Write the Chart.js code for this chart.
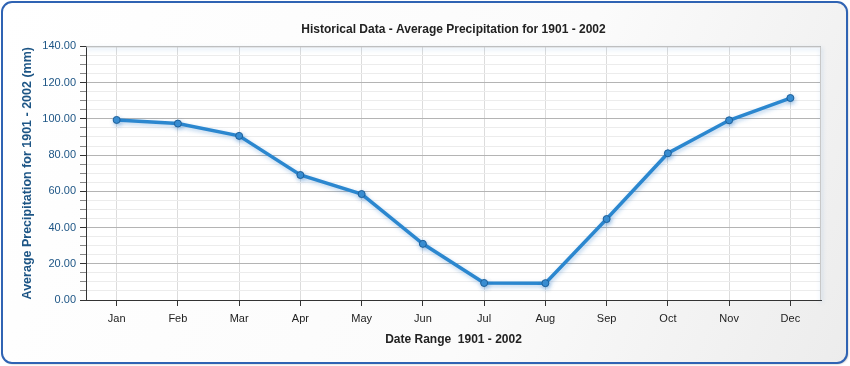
<!DOCTYPE html>
<html>
<head>
<meta charset="utf-8">
<script src="https://cdn.jsdelivr.net/npm/chart.js@4.4.1/dist/chart.umd.min.js"></script>
<style>
  html, body { margin: 0; padding: 0; background: #fff; }
  canvas { display: block; }
</style>
</head>
<body>
<canvas id="myChart" width="850" height="366"></canvas>
<script>
// monthly averages
var months = ['Jan', 'Feb', 'Mar', 'Apr', 'May', 'Jun', 'Jul', 'Aug', 'Sep', 'Oct', 'Nov', 'Dec'];
var precipitation = [99.4, 97.4, 90.6, 69.0, 58.5, 31.0, 9.4, 9.3, 44.7, 81.0, 99.2, 111.5];
var yMin = 0;
var yMax = 140;
var yMajorStep = 20;
var yMinorStep = 5;

var chartTitle = 'Historical Data - Average Precipitation for 1901 - 2002';
var xTitle = 'Date Range  1901 - 2002';
var yTitle = 'Average Precipitation for 1901 - 2002 (mm)';

var fontFamily = "'Liberation Sans', Arial, sans-serif";

// panel background + rounded blue frame, plot frame
var framePlugin = {
  id: 'frame',
  beforeDraw: function(chart) {
    var ctx = chart.ctx;
    var w = chart.width, h = chart.height;
    ctx.save();
    var x = 2, y = 2, bw = w - 5, bh = h - 5, r = 10;
    ctx.beginPath();
    ctx.moveTo(x + r, y);
    ctx.arcTo(x + bw, y, x + bw, y + bh, r);
    ctx.arcTo(x + bw, y + bh, x, y + bh, r);
    ctx.arcTo(x, y + bh, x, y, r);
    ctx.arcTo(x, y, x + bw, y, r);
    ctx.closePath();
    var grad = ctx.createLinearGradient(0, 0, w, h);
    grad.addColorStop(0, '#ffffff');
    grad.addColorStop(0.6, '#fbfbfb');
    grad.addColorStop(1, '#ececec');
    ctx.fillStyle = grad;
    ctx.shadowColor = 'rgba(0, 0, 0, 0.35)';
    ctx.shadowBlur = 2;
    ctx.shadowOffsetX = 1;
    ctx.shadowOffsetY = 1;
    ctx.fill();
    ctx.shadowColor = 'transparent';
    ctx.lineWidth = 2;
    ctx.strokeStyle = '#2f63b3';
    ctx.stroke();

    var a = chart.chartArea;
    ctx.fillStyle = '#ffffff';
    ctx.fillRect(a.left, a.top, a.right - a.left, a.bottom - a.top);
    ctx.restore();
  },
  afterDatasetsDraw: function(chart) {
    var a = chart.chartArea;
    var ctx = chart.ctx;
    ctx.save();
    ctx.strokeStyle = '#c8c8c8';
    ctx.lineWidth = 1;
    ctx.beginPath();
    ctx.moveTo(a.left, a.top + 0.5);
    ctx.lineTo(a.right - 0.5, a.top + 0.5);
    ctx.lineTo(a.right - 0.5, a.bottom);
    ctx.stroke();
    ctx.restore();
  }
};

// soft glow under the line
var shadowPlugin = {
  id: 'lineShadow',
  beforeDatasetsDraw: function(chart) {
    var ctx = chart.ctx;
    ctx.save();
    ctx.shadowColor = 'rgba(40, 120, 200, 0.35)';
    ctx.shadowBlur = 4;
    ctx.shadowOffsetX = 1;
    ctx.shadowOffsetY = 2;
  },
  afterDatasetsDraw: function(chart) {
    chart.ctx.restore();
  }
};

var ctx = document.getElementById('myChart').getContext('2d');
var chart = new Chart(ctx, {
  type: 'line',
  data: {
    labels: months,
    datasets: [{
      label: 'Precipitation',
      data: precipitation,
      borderColor: '#2b87cf',
      borderWidth: 3.5,
      tension: 0,
      pointRadius: 3.5,
      pointBackgroundColor: '#3a8ed2',
      pointBorderColor: '#1d5f99',
      pointBorderWidth: 1
    }]
  },
  options: {
    responsive: false,
    animation: false,
    layout: { padding: { left: 14, right: 29, top: 10, bottom: 14 } },
    plugins: {
      legend: { display: false },
      tooltip: { enabled: false },
      title: {
        display: true,
        text: chartTitle,
        fullSize: false,
        color: '#222222',
        font: { family: fontFamily, size: 12, weight: 'bold' },
        padding: { top: 12, bottom: 10 }
      }
    },
    scales: {
      x: {
        offset: true,
        afterFit: function(scale) { scale.height = 52; },
        border: { color: '#333333', width: 1 },
        grid: {
          offset: false,
          color: '#dcdcdc',
          tickColor: '#333333',
          tickLength: 6
        },
        ticks: {
          color: '#222222',
          padding: 6,
          font: { family: fontFamily, size: 11 }
        },
        title: {
          display: true,
          text: xTitle,
          color: '#222222',
          font: { family: fontFamily, size: 12, weight: 'bold' },
          padding: { top: 0, bottom: 5 }
        }
      },
      y: {
        min: yMin,
        max: yMax,
        afterFit: function(scale) { scale.width = 72; },
        border: { color: '#333333', width: 1 },
        grid: {
          color: function(c) {
            return c.tick && c.tick.value % yMajorStep === 0 ? '#b4b4b4' : '#ececec';
          },
          tickColor: function(c) {
            return c.tick && c.tick.value % yMajorStep === 0 ? '#333333' : '#888888';
          },
          tickLength: 6
        },
        ticks: {
          stepSize: yMinorStep,
          autoSkip: false,
          color: '#1d5585',
          padding: 4,
          font: { family: fontFamily, size: 11 },
          callback: function(v) {
            return v % yMajorStep === 0 ? v.toFixed(2) : '';
          }
        },
        title: {
          display: true,
          text: yTitle,
          color: '#1d5585',
          font: { family: fontFamily, size: 12.5, weight: 'bold' },
          padding: { top: 6.5, bottom: 0 }
        }
      }
    }
  },
  plugins: [framePlugin, shadowPlugin]
});
</script>
</body>
</html>
